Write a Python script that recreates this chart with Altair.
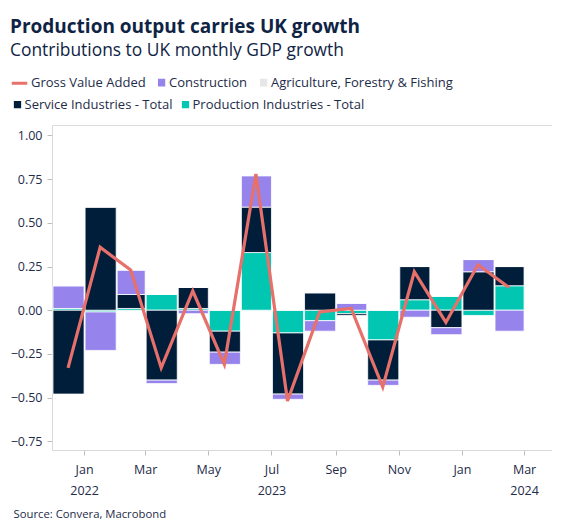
import altair as alt
import pandas as pd

FONT = "Open Sans"
NAVY = "#0F2445"
TXT = "#1E2C4A"

months = ["2022-12", "2023-01", "2023-02", "2023-03", "2023-04", "2023-05", "2023-06",
          "2023-07", "2023-08", "2023-09", "2023-10", "2023-11", "2023-12", "2024-01", "2024-02"]
production = [0.01, -0.01, 0.01, 0.09, 0.01, -0.12, 0.33, -0.13, -0.06, -0.02, -0.17, 0.06, 0.08, -0.03, 0.14]
services = [-0.48, 0.59, 0.08, -0.40, 0.12, -0.12, 0.26, -0.35, 0.10, -0.01, -0.23, 0.19, -0.10, 0.22, 0.11]
construction = [0.13, -0.22, 0.14, -0.02, -0.02, -0.07, 0.18, -0.03, -0.06, 0.04, -0.03, -0.04, -0.04, 0.07, -0.12]
agriculture = [0.0, 0.0, 0.0, 0.0, 0.0, 0.0, 0.0, 0.0, 0.0, 0.0, 0.0, 0.0, 0.0, 0.0, 0.0]
gva = [-0.33, 0.36, 0.23, -0.33, 0.11, -0.31, 0.78, -0.52, -0.01, 0.01, -0.44, 0.22, -0.07, 0.26, 0.13]

legend_row1 = ["Gross Value Added", "Construction", "Agriculture, Forestry & Fishing"]
colors_row1 = ["#E8706A", "#9683EC", "#E6E6E6"]
legend_row2 = ["Service Industries - Total", "Production Industries - Total"]
colors_row2 = ["#001E3A", "#00C6B2"]

tick_months = ["2023-01", "2023-03", "2023-05", "2023-07", "2023-09", "2023-11", "2024-01", "2024-03"]
tick_years = ["2022", "", "", "2023", "", "", "", "2024"]

# legend symbol shapes: a line for GVA, filled squares (drawn with strokes) for the bars
LINE_SYM = "M-1,0H1"
SQUARE_RIGHT = "M0.06,-0.3H1M0.06,0H1M0.06,0.3H1"
SQUARE_FULL = "M-1,-0.6H1M-1,0H1M-1,0.6H1"
shapes_row1 = [LINE_SYM, SQUARE_RIGHT, SQUARE_RIGHT]
shapes_row2 = [SQUARE_FULL, SQUARE_FULL]

stack_parts = [
    ("Production Industries - Total", production, 1, "#00C6B2"),
    ("Service Industries - Total", services, 2, "#001E3A"),
    ("Construction", construction, 3, "#9683EC"),
    ("Agriculture, Forestry & Fishing", agriculture, 4, "#E6E6E6"),
]
rows = []
for name, vals, o, _c in stack_parts:
    for m, v in zip(months, vals):
        rows.append({"date": m + "-01", "component": name, "value": v, "ord": o})
bars_df = pd.DataFrame(rows)
bar_names = [p[0] for p in stack_parts]
bar_colors = [p[3] for p in stack_parts]
line_df = pd.DataFrame({"date": [m + "-01" for m in months], "value": gva})


def make_legend(x, y, size, label_offset):
    return alt.Legend(
        orient="none", legendX=x, legendY=y, direction="horizontal",
        title=None, labelFont=FONT, labelFontSize=13, labelColor=TXT,
        labelLimit=400, symbolSize=size, symbolStrokeWidth=3, symbolOpacity=1,
        columnPadding=2, labelOffset=label_offset,
    )


tick_values = [alt.DateTime(year=int(t[:4]), month=int(t[5:]), date=1) for t in tick_months]
year_expr = "''"
for t, y in zip(tick_months, tick_years):
    if y:
        year_expr = f"timeFormat(datum.value, '%Y-%m') === '{t}' ? '{y}' : ({year_expr})"
label_expr = f"[timeFormat(datum.value, '%b'), {year_expr}]"

x_scale = alt.Scale(domain=[alt.DateTime(year=2022, month=12, date=1),
                            alt.DateTime(year=2024, month=3, date=28)])
x_axis = alt.Axis(values=tick_values, labelExpr=label_expr, grid=False, tickSize=5,
                  labelPadding=8, labelLineHeight=21, labelFont=FONT, labelFontSize=12.5,
                  labelColor=TXT, domainColor="#D9D9D9", tickColor="#BDBDBD",
                  labelBaseline="top",
                  title="Source: Convera, Macrobond", titleX=-39, titleY=64,
                  titleAlign="left", titleBaseline="middle", titleFont=FONT,
                  titleFontSize=11.3, titleFontWeight="normal", titleColor=TXT)
y_axis = alt.Axis(values=[-0.75, -0.5, -0.25, 0, 0.25, 0.5, 0.75, 1.0], format=".2f",
                  grid=False, tickSize=5, labelPadding=5, labelFont=FONT, labelFontSize=12.5,
                  labelColor=TXT, domainColor="#D9D9D9", tickColor="#BDBDBD", title=None)

bars = alt.Chart(bars_df).mark_bar(timeUnitBandSize=0.88, stroke="white", strokeWidth=0.8).encode(
    x=alt.X("yearmonth(date):T", scale=x_scale, axis=x_axis),
    y=alt.Y("value:Q", stack="zero", scale=alt.Scale(domain=[-0.8, 1.06], nice=False, zero=False), axis=y_axis),
    fill=alt.Fill("component:N", scale=alt.Scale(domain=bar_names, range=bar_colors), legend=None),
    order=alt.Order("ord:Q", sort="ascending"),
)

line = alt.Chart(line_df).mark_line(strokeWidth=3.2, strokeJoin="miter", color=colors_row1[0]).encode(
    x=alt.X("yearmonth(date):T", scale=x_scale, bandPosition=0.5),
    y=alt.Y("value:Q"),
)

leg1 = make_legend(-42, -52, 240, 2)
legend_layer1 = alt.Chart(pd.DataFrame({"series": legend_row1})).mark_point(clip=True, filled=False).encode(
    x=alt.value(-200), y=alt.value(-200),
    color=alt.Color("series:N", scale=alt.Scale(domain=legend_row1, range=colors_row1), legend=leg1),
    shape=alt.Shape("series:N", scale=alt.Scale(domain=legend_row1, range=shapes_row1), legend=leg1),
)
leg2 = make_legend(-41, -27, 53, 0.5)
legend_layer2 = alt.Chart(pd.DataFrame({"series": legend_row2})).mark_point(clip=True, filled=False).encode(
    x=alt.value(-200), y=alt.value(-200),
    color=alt.Color("series:N", scale=alt.Scale(domain=legend_row2, range=colors_row2), legend=leg2),
    shape=alt.Shape("series:N", scale=alt.Scale(domain=legend_row2, range=shapes_row2), legend=leg2),
)

chart = alt.layer(bars, line, legend_layer1, legend_layer2).resolve_scale(
    color="independent", shape="independent"
).properties(
    width=500, height=325, padding={"left": 2, "top": 9, "right": 0, "bottom": 0},
    title=alt.TitleParams(
        text="Production output carries UK growth",
        subtitle="Contributions to UK monthly GDP growth",
        anchor="start", frame="bounds", font=FONT, fontSize=19, fontWeight="bold", color=NAVY,
        subtitleFont=FONT, subtitleFontSize=17.4, subtitleColor=NAVY, subtitlePadding=5, offset=14,
    ),
).configure_view(strokeWidth=0).configure(background="white")

chart.save("out.html", embed_options={"renderer": "svg", "actions": False})
